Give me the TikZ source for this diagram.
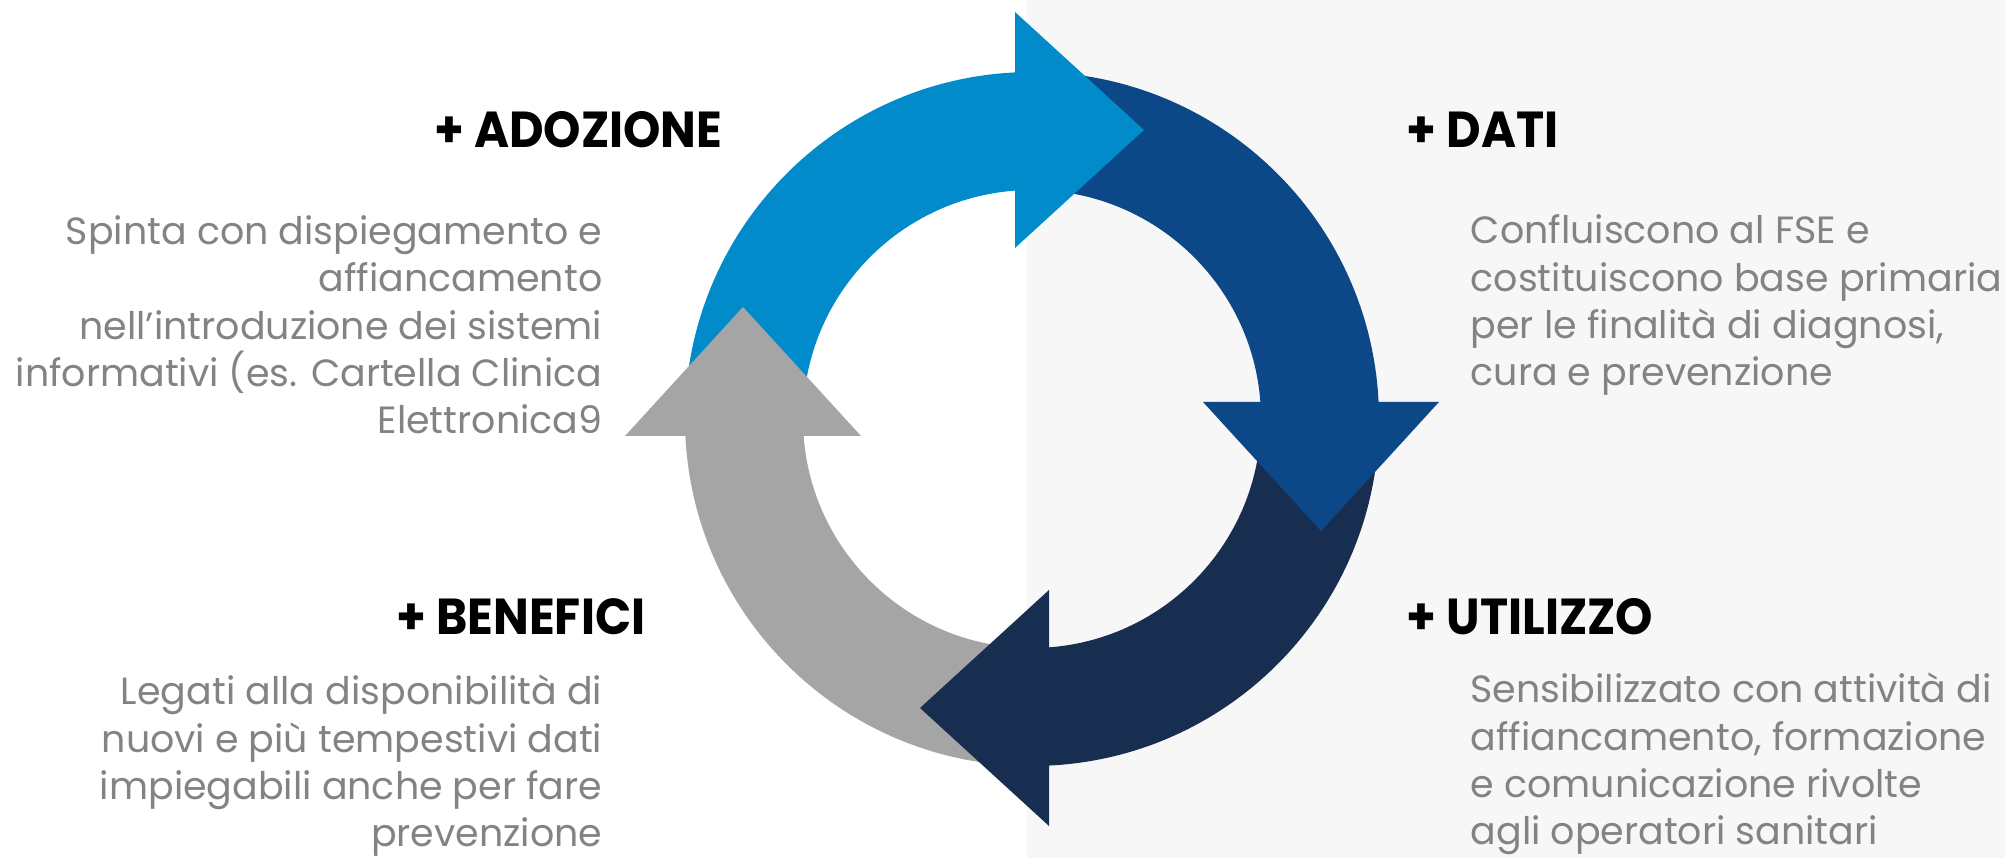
\documentclass[tikz,border=0pt]{standalone}
\usepackage{fontspec}
\setmainfont{Poppins}
\usepackage{graphicx}

\definecolor{adozione}{HTML}{028BCB}
\definecolor{dati}{HTML}{0C4787}
\definecolor{utilizzo}{HTML}{182E50}
\definecolor{benefici}{HTML}{A5A5A5}
\definecolor{sfondo}{HTML}{F7F7F7}
\definecolor{testogrigio}{HTML}{838383}

\begin{document}
\begin{tikzpicture}[
	titolo/.style={font=\fontsize{14.4}{17}\selectfont\bfseries, text=black, inner sep=0pt, xscale=0.94},
	testo/.style={font=\fontsize{10.8}{13.5}\selectfont, text=testogrigio, inner sep=0pt}]

		\useasboundingbox (0, 0) rectangle (20.05, 8.58);
		\fill[sfondo] (10.27, 0) rectangle (20.05, 8.58); % Фон справа

	\begin{scope}[shift={(10.32, 4.39)}]
		% Тела стрелок
		\fill[adozione] (181:3.47) arc[start angle=181, end angle=92, radius=3.47] -- (92:2.29) arc[start angle=92, end angle=181, radius=2.29] -- cycle;
		\fill[dati] (91:3.47) arc[start angle=91, end angle=2, radius=3.47] -- (2:2.29) arc[start angle=2, end angle=91, radius=2.29] -- cycle;
		\fill[utilizzo] (1:3.47) arc[start angle=1, end angle=-88, radius=3.47] -- (-88:2.29) arc[start angle=-88, end angle=1, radius=2.29] -- cycle;
		\fill[benefici] (-89:3.47) arc[start angle=-89, end angle=-178, radius=3.47] -- (-178:2.29) arc[start angle=-178, end angle=-89, radius=2.29] -- cycle;

		% Наконечники
		\fill[adozione] (-0.17, 1.71) -- (-0.17, 4.07) -- (1.12, 2.89) -- cycle;
		\fill[dati] (1.71, 0.17) -- (4.07, 0.17) -- (2.89, -1.12) -- cycle;
		\fill[utilizzo] (0.17, -1.71) -- (0.17, -4.07) -- (-1.12, -2.89) -- cycle;
		\fill[benefici] (-1.71, -0.17) -- (-4.07, -0.17) -- (-2.89, 1.12) -- cycle;
	\end{scope}

		\node[titolo, anchor=base east] (adozione) at (7.23, 7.10) {+ ADOZIONE};
		\node[testo, align=right, anchor=base east] (adozione testo) at (6.03, 4.24)
			{Spinta con dispiegamento e\\affiancamento\\nell’introduzione dei sistemi\\informativi (es. Cartella Clinica\\Elettronica9};

		\node[titolo, anchor=base west] (dati) at (14.06, 7.10) {+ DATI};
		\node[testo, align=left, anchor=base west] (dati testo) at (14.70, 4.72)
			{Confluiscono al FSE e\\costituiscono base primaria\\per le finalità di diagnosi,\\cura e prevenzione};

		\node[titolo, anchor=base east] (benefici) at (6.46, 2.23) {+ BENEFICI};
		\node[testo, align=right, anchor=base east] (benefici testo) at (6.03, 0.11)
			{Legati alla disponibilità di\\nuovi e più tempestivi dati\\impiegabili anche per fare\\prevenzione};

		\node[titolo, anchor=base west] (utilizzo) at (14.06, 2.23) {+ UTILIZZO};
		\node[testo, align=left, anchor=base west] (utilizzo testo) at (14.70, 0.13)
			{Sensibilizzato con attività di\\affiancamento, formazione\\e comunicazione rivolte\\agli operatori sanitari};
	\end{tikzpicture}
\end{document}
